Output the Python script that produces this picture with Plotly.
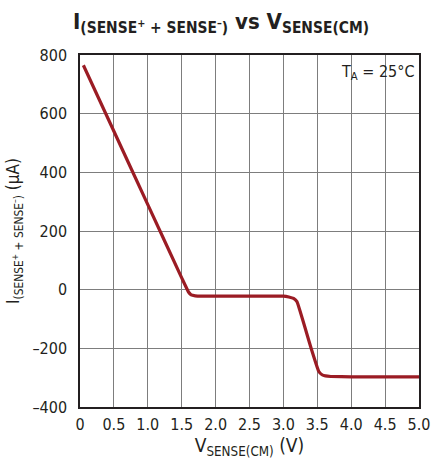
import plotly.graph_objects as go

v_sense = [0.05, 0.5, 1.0, 1.5, 1.6, 1.64, 1.7, 1.8, 2.5, 3.0, 3.08, 3.15, 3.2, 3.4, 3.52, 3.57, 3.62, 3.7, 4.0, 5.0]
i_sense = [765, 540, 290, 40, -8, -18, -21, -22, -22, -22, -25, -30, -41, -193, -278, -290, -294, -296, -297, -297]

x_ticks = [0, 0.5, 1.0, 1.5, 2.0, 2.5, 3.0, 3.5, 4.0, 4.5, 5.0]
x_tick_labels = ["0", "0.5", "1.0", "1.5", "2.0", "2.5", "3.0", "3.5", "4.0", "4.5", "5.0"]
y_ticks = [-400, -200, 0, 200, 400, 600, 800]
y_tick_labels = ["–400", "–200", "0", "200", "400", "600", "800"]

FONT = "DejaVu Sans Condensed, Liberation Sans Narrow, Roboto, Liberation Sans, Arial"

fig = go.Figure()
fig.add_trace(go.Scatter(x=v_sense, y=i_sense, mode="lines",
                         line=dict(color="#9b1c24", width=3.2, shape="spline", smoothing=0.3),
                         showlegend=False, hoverinfo="skip"))

fig.update_layout(
    width=442, height=466,
    margin=dict(l=78, r=13, t=55, b=59),
    paper_bgcolor="white", plot_bgcolor="white",
    font=dict(family=FONT, size=16, color="#231f20"),
    title=dict(text="<b>I<sub>(SENSE<sup>+</sup> + SENSE<sup>–</sup>)</sub> vs V<sub>SENSE(CM)</sub></b>",
               x=0.5, xanchor="center", y=0.955, yanchor="middle",
               font=dict(family=FONT, size=22, color="#231f20")),
    xaxis=dict(range=[0, 5], tickvals=x_ticks, ticktext=x_tick_labels,
               showgrid=True, gridcolor="#7d7d7d", gridwidth=1,
               showline=True, linecolor="#231f20", linewidth=1.5, mirror=True,
               ticks="", zeroline=False, ticklabelstandoff=2,
               title=dict(text="V<sub>SENSE(CM)</sub> (V)", standoff=6)),
    yaxis=dict(range=[-400, 800], tickvals=y_ticks, ticktext=y_tick_labels,
               showgrid=True, gridcolor="#7d7d7d", gridwidth=1,
               showline=True, linecolor="#231f20", linewidth=1.5, mirror=True,
               ticks="", zeroline=False, ticklabelstandoff=8,
               title=dict(text="I<sub>(SENSE<sup>+</sup> + SENSE<sup>–</sup>)</sub> (µA)", standoff=8,
                          font=dict(size=17))),
    annotations=[dict(text="T<sub>A</sub> = 25°C", x=0.99, y=0.985, xref="paper", yref="paper",
                      xanchor="right", yanchor="top", showarrow=False,
                      font=dict(family=FONT, size=16, color="#231f20"))],
)

fig.write_html("out.html", config={"displayModeBar": False},
               post_script="document.body.style.margin='0';document.body.style.overflow='hidden';")
